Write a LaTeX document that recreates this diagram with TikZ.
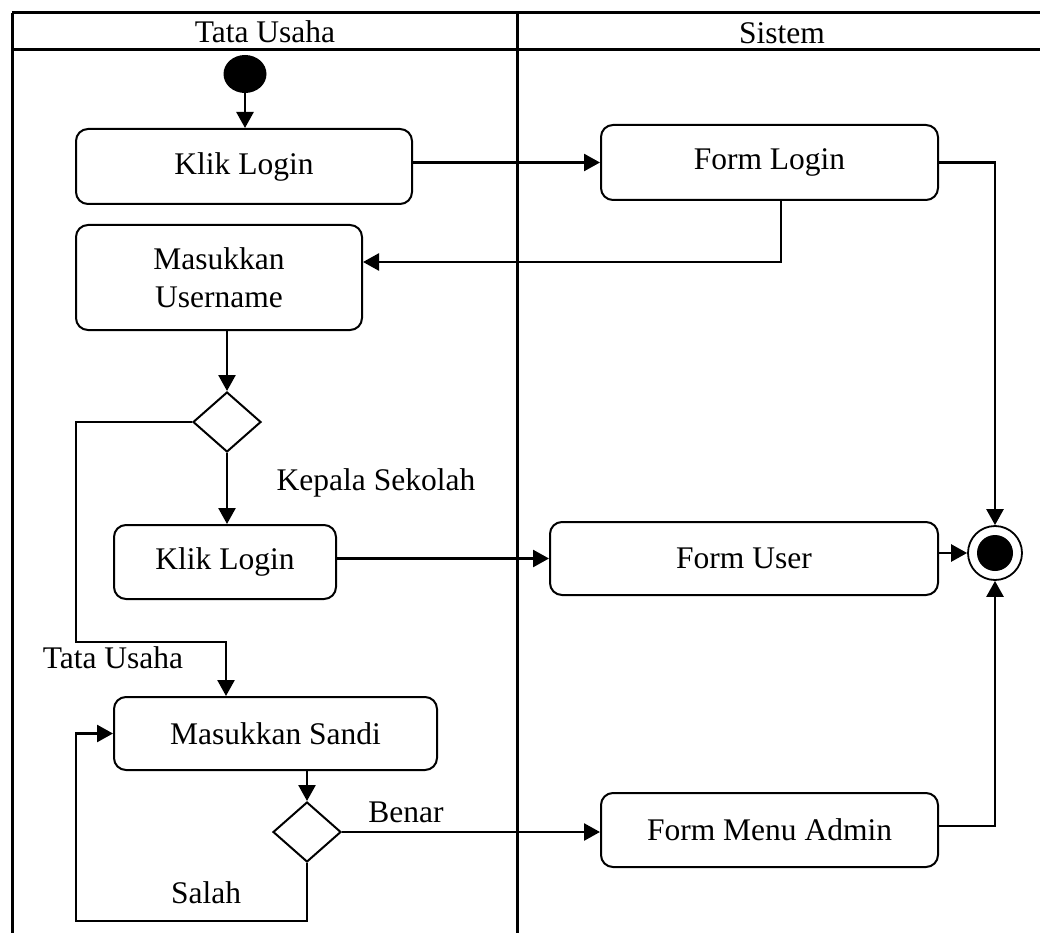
\documentclass[tikz,border=0pt]{standalone}
\usepackage{fontspec}
\setmainfont{Liberation Serif}
\usetikzlibrary{shapes.geometric,arrows.meta,calc}
\begin{document}
\begin{tikzpicture}[x=1pt,y=-1pt,
  txt/.style={font=\fontsize{31.5}{38}\selectfont},
  act/.style={draw, line width=2pt, rounded corners=12pt, txt, align=center, inner sep=0pt},
  dec/.style={draw, diamond, line width=2pt, inner sep=0pt, minimum width=68pt, minimum height=60pt},
  arr/.style={line width=2.6pt, -{Triangle[length=16pt,width=17pt]}},
  lane/.style={line width=3pt}
]
\clip (0,0) rectangle (1040,933);

% swimlane frame
\draw[lane] (12,13) -- (1050,13);
\draw[lane] (12,50) -- (1050,50);
\draw[lane] (12,13) -- (12,945);
\draw[lane] (517,13) -- (517,945);
\node[txt] (hTU) at (265,32) {Tata Usaha};
\node[txt] (hS) at (782,33) {Sistem};

% start and end
\node[ellipse, fill, minimum width=43pt, minimum height=38pt, inner sep=0pt] (start) at (245,74) {};
\node[circle, draw, line width=1.8pt, minimum size=54pt, inner sep=0pt] (final) at (995,553) {};
\fill (final.center) circle (18);

% activities
\node[act, minimum width=336pt, minimum height=75pt] (kl1) at (244,166.5) {Klik Login};
\node[act, minimum width=337pt, minimum height=75pt] (fl) at (769.5,162.5) {Form Login};
\node[act, minimum width=286pt, minimum height=105pt] (mu) at (219,277.5) {Masukkan\\Username};
\node[dec] (d1) at (227,422) {};
\node[act, minimum width=222pt, minimum height=74pt] (kl2) at (225,562) {Klik Login};
\node[act, minimum width=388pt, minimum height=73pt] (fu) at (744,558.5) {Form User};
\node[act, minimum width=323pt, minimum height=73pt] (ms) at (275.5,733.5) {Masukkan Sandi};
\node[dec] (d2) at (307,832) {};
\node[act, minimum width=337pt, minimum height=74pt] (fma) at (769.5,830) {Form Menu Admin};

% guard labels
\node[txt] (lKS) at (376,483) {Kepala Sekolah};
\node[txt] (lTU) at (113,658) {Tata Usaha};
\node[txt] (lB) at (406,812) {Benar};
\node[txt] (lS) at (206,893) {Salah};

% flows
\draw[arr] (start.south) -- (start.south |- kl1.north);
\draw[arr] (kl1.east |- fl.west) -- (fl.west);
\draw[arr] ([xshift=11.5pt]fl.south) |- ([yshift=15.5pt]mu.east);
\draw[arr] (fl.east) -| (final.north);
\draw[arr] (mu.south -| d1.north) -- (d1.north);
\draw[arr] (d1.south) -- (d1.south |- kl2.north);
\draw[arr] (kl2.east |- fu.west) -- (fu.west);
\draw[arr] (fu.east |- final.west) -- (final.west);
\draw[arr] (d1.west) -| (76,642) -| ([xshift=-49.5pt]ms.north);
\draw[arr] (ms.south -| d2.north) -- (d2.north);
\draw[arr] (d2.east) -- (d2.east -| fma.west);
\draw[arr] (d2.south) |- (76,921) |- (ms.west);
\draw[arr] ([yshift=4pt]fma.east) -| (final.south);
\end{tikzpicture}
\end{document}
